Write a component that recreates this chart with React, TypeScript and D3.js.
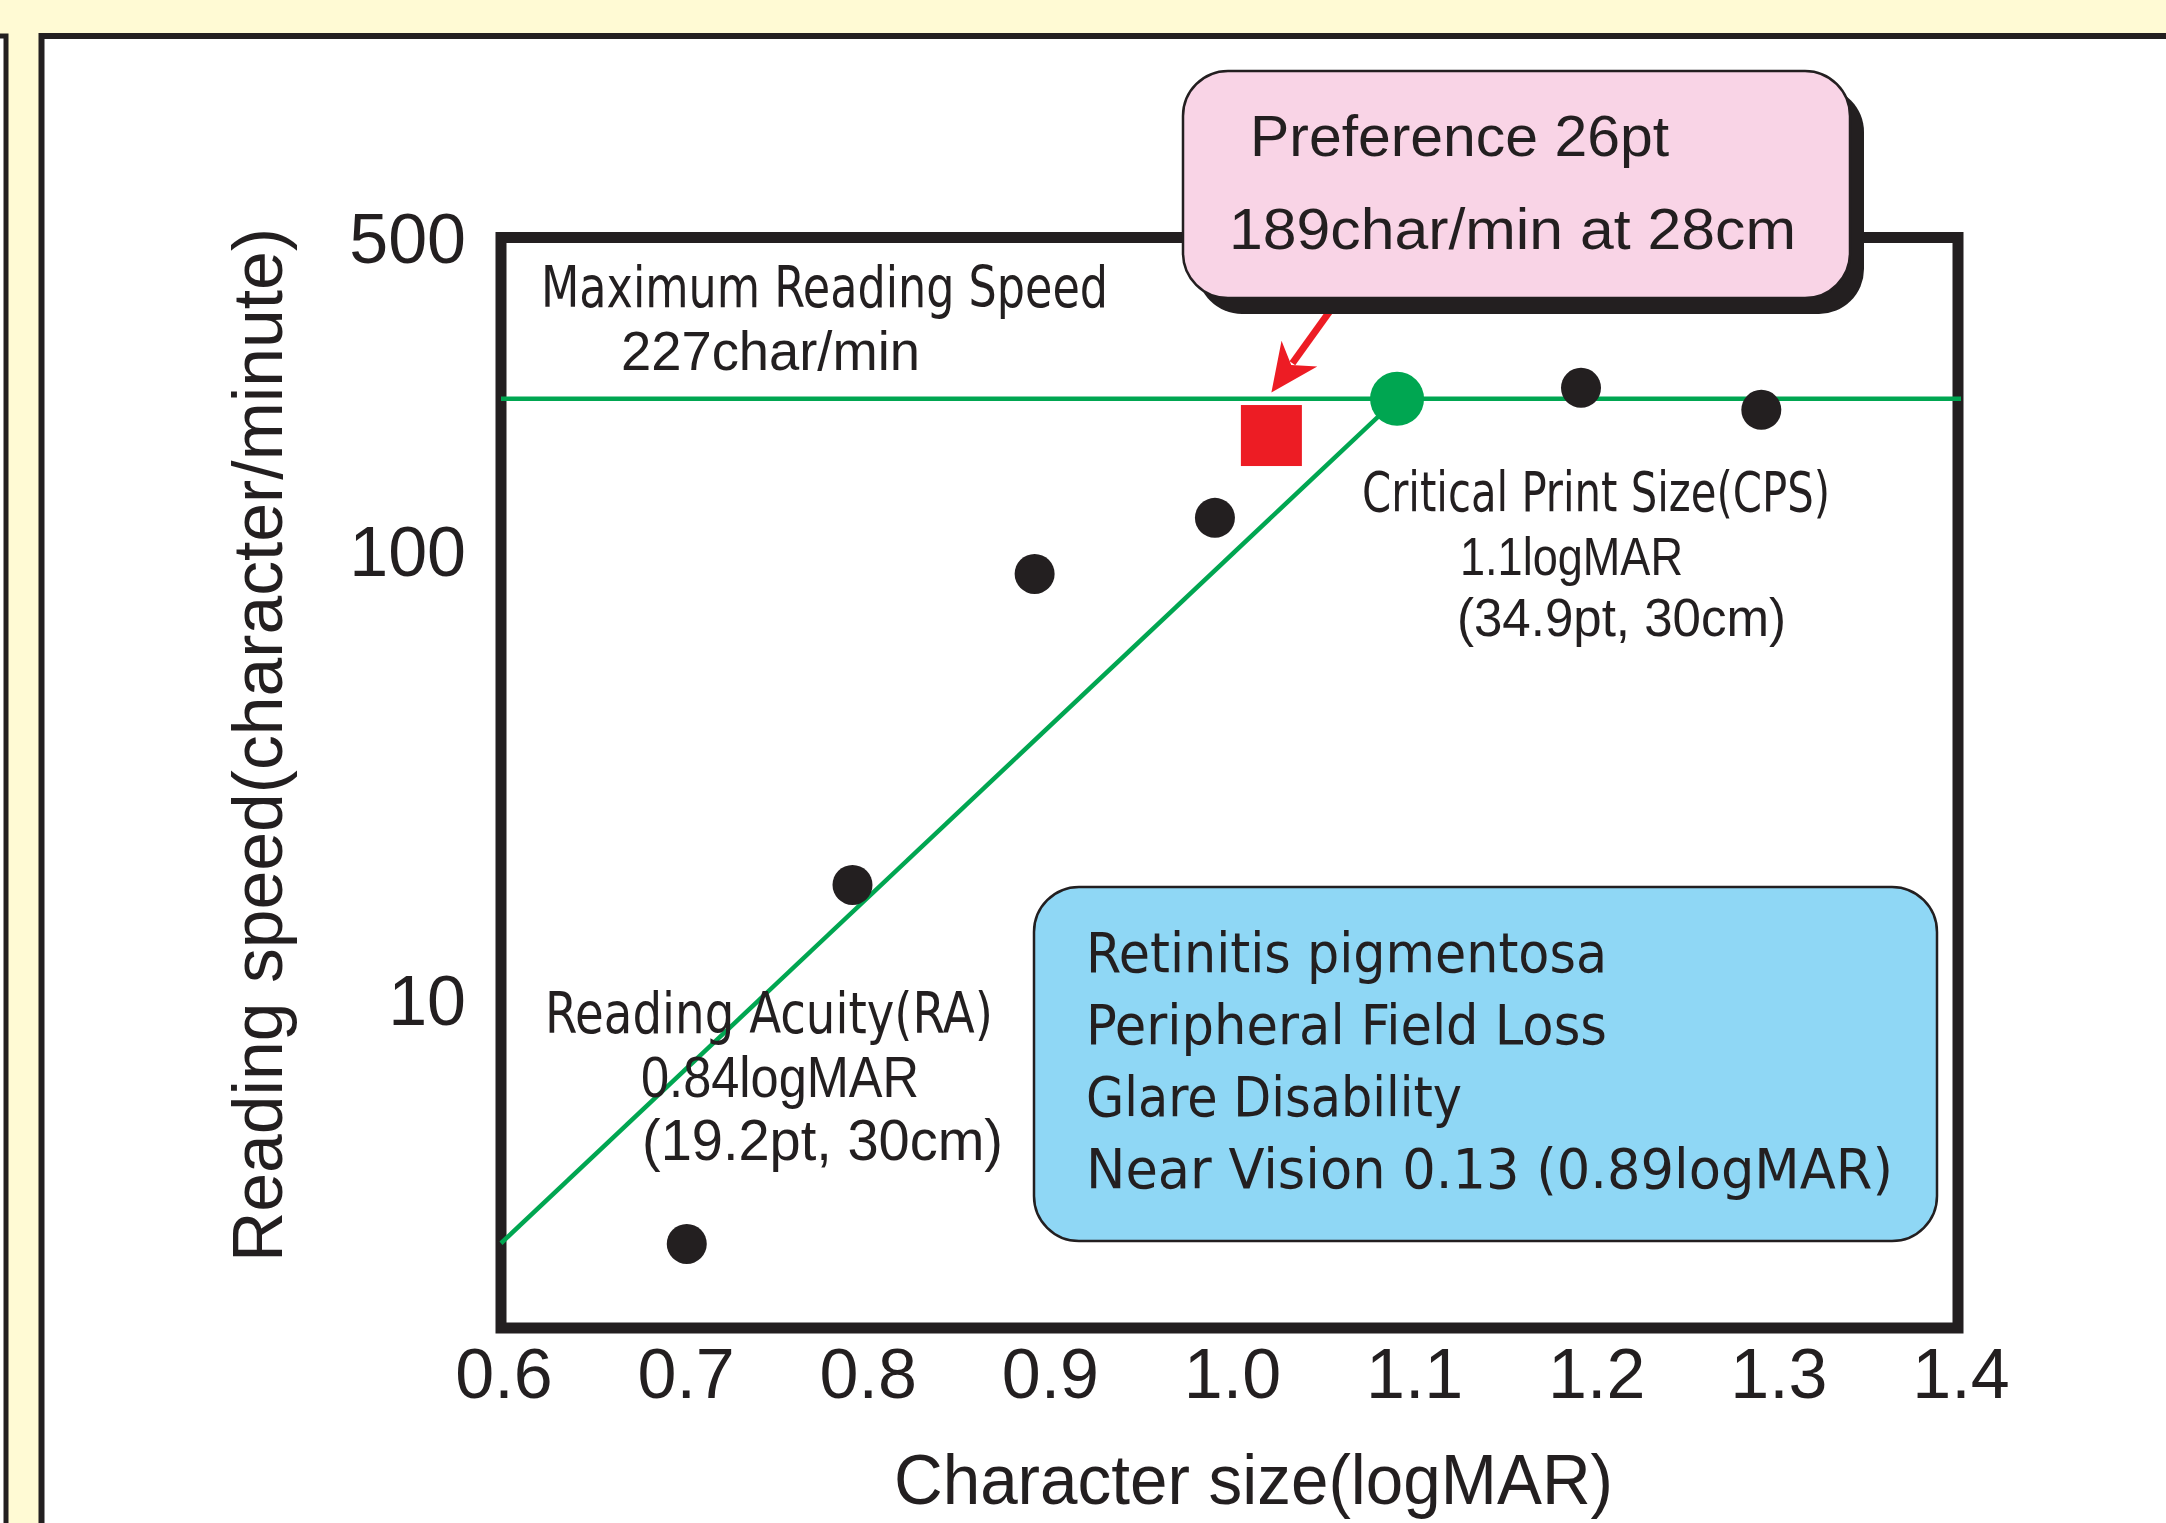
import React, { useEffect } from "react";
import * as d3 from "d3";

const W = 2166;
const H = 1523;

// measured data (logMAR vs reading speed)
const logMAR = [0.702, 0.793, 0.893, 0.992, 1.193, 1.292];
const speed = [2.88, 18.2, 89.9, 119.9, 233.8, 208.8];
const cpsPoint = [1.092, 221];
const preferencePoint = [1.023, 183];
const fitStart = [0.6, 2.89];
const maxSpeedLevel = 221;

const xTicks = [0.6, 0.7, 0.8, 0.9, 1.0, 1.1, 1.2, 1.3, 1.4];
const yTicks = [10, 100, 500];

const mrsLines = ["Maximum Reading Speed", "227char/min"];
const cpsLines = ["Critical Print Size(CPS)", "1.1logMAR", "(34.9pt, 30cm)"];
const raLines = ["Reading Acuity(RA)", "0.84logMAR", "(19.2pt, 30cm)"];
const prefLines = ["Preference 26pt", "189char/min at 28cm"];
const caseLines = [
  "Retinitis pigmentosa",
  "Peripheral Field Loss",
  "Glare Disability",
  "Near Vision 0.13 (0.89logMAR)",
];

const INK = "#231f20";
const GREEN = "#00a651";
const RED = "#ed1c24";
const WIDE = "'Liberation Sans', Arial, sans-serif";
const NARROW = "'Liberation Sans Narrow', 'DejaVu Sans Condensed', sans-serif";

const x = d3.scaleLinear().domain([0.6, 1.4]).range([501, 1958]);
const y = d3.scaleLog().domain([1.87, 506]).range([1328, 237.5]);

type Lbl = { t: string; x: number; y: number; w: number; f: string; s: number };

const Label = ({ t, x, y, w, f, s }: Lbl) => (
  <text
    x={x}
    y={y}
    textLength={w}
    lengthAdjust="spacingAndGlyphs"
    fontFamily={f}
    fontSize={s}
    fill={INK}
  >
    {t}
  </text>
);

export default function App() {
  useEffect(() => {
    document.body.style.margin = "0";
  }, []);

  const fit = d3.line()([
    [x(fitStart[0]), y(fitStart[1])],
    [x(cpsPoint[0]), y(cpsPoint[1])],
  ]) as string;

  const px = x(preferencePoint[0]);
  const py = y(preferencePoint[1]);
  const tip = [px, py - 43];
  const tail = [tip[0] + 69, tip[1] - 96];
  const dx = tip[0] - tail[0];
  const dy = tip[1] - tail[1];
  const len = Math.hypot(dx, dy);
  const ux = dx / len;
  const uy = dy / len;
  const head = [
    tip,
    [tip[0] - ux * 48 + uy * 22, tip[1] - uy * 48 - ux * 22],
    [tip[0] - ux * 34, tip[1] - uy * 34],
    [tip[0] - ux * 48 - uy * 22, tip[1] - uy * 48 + ux * 22],
  ];

  return (
    <svg
      width={W}
      height={H}
      style={{ display: "block", position: "absolute", left: 0, top: 0 }}
    >
      <rect width={W} height={H} fill="#fffad4" />
      <rect x={-200} y={36} width={206} height={1700} fill="#fff" stroke={INK} strokeWidth={5} />
      <rect x={41.5} y={36} width={2300} height={1700} fill="#fff" stroke={INK} strokeWidth={6} />

      {/* plot frame */}
      <rect
        x={x(0.6)}
        y={y.range()[1]}
        width={x(1.4) - x(0.6)}
        height={y.range()[0] - y.range()[1]}
        fill="none"
        stroke={INK}
        strokeWidth={11}
      />

      {/* x tick labels */}
      {xTicks.map((v) => (
        <text
          key={v}
          x={x(v) + 3}
          y={1398}
          textAnchor="middle"
          fontFamily={WIDE}
          fontSize={70}
          fill={INK}
        >
          {v.toFixed(1)}
        </text>
      ))}
      {/* y tick labels */}
      {yTicks.map((v) => (
        <text
          key={v}
          x={466}
          y={y(v) + 23}
          textAnchor="end"
          fontFamily={WIDE}
          fontSize={70}
          fill={INK}
        >
          {v}
        </text>
      ))}

      <text
        x={894}
        y={1504}
        textLength={719}
        lengthAdjust="spacingAndGlyphs"
        fontFamily={WIDE}
        fontSize={70}
        fill={INK}
      >
        Character size(logMAR)
      </text>
      <text
        transform="translate(282,1262) rotate(-90)"
        textLength={1034}
        lengthAdjust="spacingAndGlyphs"
        fontFamily={WIDE}
        fontSize={70}
        fill={INK}
      >
        Reading speed(character/minute)
      </text>

      {/* max reading speed + fit line */}
      <line
        x1={x(0.6)}
        x2={x(1.4) + 3}
        y1={y(maxSpeedLevel)}
        y2={y(maxSpeedLevel)}
        stroke={GREEN}
        strokeWidth={4.5}
      />
      <path d={fit} fill="none" stroke={GREEN} strokeWidth={4.5} />

      {logMAR.map((v, i) => (
        <circle key={v} cx={x(v)} cy={y(speed[i])} r={20} fill={INK} />
      ))}
      <circle cx={x(cpsPoint[0])} cy={y(cpsPoint[1])} r={27} fill={GREEN} />
      <rect x={px - 30.5} y={py - 30.5} width={61} height={61} fill={RED} />

      {/* annotations */}
      <Label t={mrsLines[0]} x={541} y={307} w={567} f={NARROW} s={57} />
      <Label t={mrsLines[1]} x={621} y={370} w={299} f={WIDE} s={56} />
      <Label t={cpsLines[0]} x={1362} y={511} w={468} f={NARROW} s={55} />
      <Label t={cpsLines[1]} x={1460} y={575} w={223} f={WIDE} s={54} />
      <Label t={cpsLines[2]} x={1457} y={636} w={329} f={WIDE} s={54} />
      <Label t={raLines[0]} x={545} y={1033} w={448} f={NARROW} s={57} />
      <Label t={raLines[1]} x={641} y={1097} w={278} f={WIDE} s={57} />
      <Label t={raLines[2]} x={642} y={1160} w={361} f={WIDE} s={57} />

      {/* case box */}
      <rect x={1034} y={887} width={903} height={354} rx={45} fill="#8fd7f5" stroke={INK} strokeWidth={2.5} />
      {caseLines.map((t, i) => (
        <Label
          key={t}
          t={t}
          x={1086}
          y={972 + i * 72}
          w={[521, 521, 376, 807][i]}
          f={NARROW}
          s={55}
        />
      ))}

      {/* preference arrow + callout */}
      <line x1={tail[0]} y1={tail[1]} x2={tip[0] - ux * 36} y2={tip[1] - uy * 36} stroke={RED} strokeWidth={7} />
      <polygon points={head.map((p) => p.join(",")).join(" ")} fill={RED} />
      <rect x={1197} y={87} width={667} height={227} rx={45} fill={INK} />
      <rect x={1183} y={71} width={667} height={227} rx={45} fill="#f9d4e6" stroke={INK} strokeWidth={2.5} />
      <Label t={prefLines[0]} x={1250} y={156} w={419} f={WIDE} s={57} />
      <Label t={prefLines[1]} x={1229} y={249} w={567} f={WIDE} s={58} />
    </svg>
  );
}
